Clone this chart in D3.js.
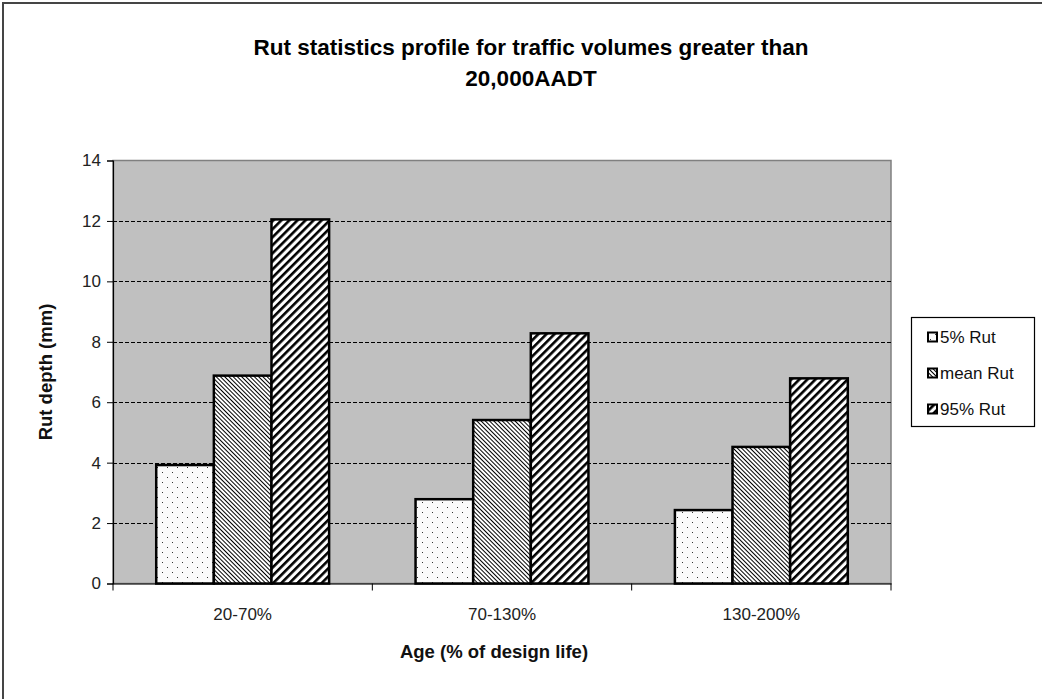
<!DOCTYPE html>
<html><head><meta charset="utf-8">
<script src="https://cdn.jsdelivr.net/npm/d3@7"></script>
<style>
html,body{margin:0;padding:0;background:#fff;}
svg{display:block;font-family:"Liberation Sans",Arial,sans-serif;}
</style>
</head><body>
<svg id="chart" width="1042" height="699"></svg>
<script>
const categories = ["20-70%", "70-130%", "130-200%"];
const seriesNames = ["5% Rut", "mean Rut", "95% Rut"];
const rut5 = [3.92, 2.79, 2.43];
const rutMean = [6.88, 5.41, 4.52];
const rut95 = [12.05, 8.28, 6.79];
const yTicks = [0, 2, 4, 6, 8, 10, 12, 14];
const titleLines = ["Rut statistics profile for traffic volumes greater than", "20,000AADT"];

const seriesValues = [rut5, rutMean, rut95];
const svg = d3.select("#chart");

// frame
svg.append("rect").attr("x", 3).attr("y", 3).attr("width", 1100).attr("height", 800)
  .attr("fill", "#fff").attr("stroke", "#454545").attr("stroke-width", 2);

// patterns
const defs = svg.append("defs");
const pDots = defs.append("pattern").attr("id", "pat0").attr("patternUnits", "userSpaceOnUse")
  .attr("width", 10).attr("height", 10);
pDots.append("rect").attr("width", 10).attr("height", 10).attr("fill", "#fbfbfb");
pDots.append("rect").attr("x", 2).attr("y", 2).attr("width", 1).attr("height", 1).attr("fill", "#333");
pDots.append("rect").attr("x", 7).attr("y", 7).attr("width", 1).attr("height", 1).attr("fill", "#333");

const pThin = defs.append("pattern").attr("id", "pat1").attr("patternUnits", "userSpaceOnUse")
  .attr("width", 3).attr("height", 10).attr("patternTransform", "rotate(-45)");
pThin.append("rect").attr("width", 3).attr("height", 10).attr("fill", "#fff");
pThin.append("line").attr("x1", 0.5).attr("x2", 0.5).attr("y1", 0).attr("y2", 10)
  .attr("stroke", "#000").attr("stroke-width", 1);

const pThick = defs.append("pattern").attr("id", "pat2").attr("patternUnits", "userSpaceOnUse")
  .attr("width", 5.7).attr("height", 10).attr("patternTransform", "rotate(45)");
pThick.append("rect").attr("width", 5.7).attr("height", 10).attr("fill", "#fff");
pThick.append("line").attr("x1", 1.3).attr("x2", 1.3).attr("y1", 0).attr("y2", 10)
  .attr("stroke", "#000").attr("stroke-width", 2.6);

const plot = {left: 113, right: 891, top: 160.5, bottom: 583.5};

const x = d3.scaleBand().domain(categories).range([plot.left, plot.right]).paddingInner(0).paddingOuter(0);
const xs = d3.scaleBand().domain(seriesNames).range([0, x.bandwidth()]).paddingInner(0).paddingOuter(0.75);
const y = d3.scaleLinear().domain([0, 14]).range([plot.bottom, plot.top]);

// plot background
svg.append("rect").attr("x", plot.left).attr("y", plot.top)
  .attr("width", plot.right - plot.left).attr("height", plot.bottom - plot.top)
  .attr("fill", "#c0c0c0").attr("stroke", "#808080").attr("stroke-width", 1.5);

// gridlines
svg.append("g").selectAll("line").data(yTicks.filter(d => d > 0 && d < 14)).join("line")
  .attr("x1", plot.left).attr("x2", plot.right)
  .attr("y1", d => Math.round(y(d)) + 0.5).attr("y2", d => Math.round(y(d)) + 0.5)
  .attr("stroke", "#000").attr("stroke-width", 1).attr("stroke-dasharray", "4,2");

// bars
const barData = [];
categories.forEach((c, i) => seriesNames.forEach((s, j) => barData.push({c, s, j, v: seriesValues[j][i]})));
svg.append("g").selectAll("rect").data(barData).join("rect")
  .attr("x", d => x(d.c) + xs(d.s))
  .attr("y", d => y(d.v))
  .attr("width", xs.bandwidth())
  .attr("height", d => y(0) - y(d.v))
  .attr("fill", d => `url(#pat${d.j})`)
  .attr("stroke", "#000").attr("stroke-width", 2.5);

// y axis
const yAxis = d3.axisLeft(y).tickValues(yTicks).tickSize(6).tickPadding(6).tickFormat(d3.format("d"));
const gy = svg.append("g").attr("transform", `translate(${plot.left},0)`).call(yAxis);
gy.select(".domain").attr("stroke", "#000").attr("stroke-width", 1.2);
gy.selectAll(".tick line").attr("stroke", "#000");
gy.selectAll(".tick text").attr("font-size", 17).attr("fill", "#222")
  .attr("font-family", "Liberation Sans, Arial, sans-serif");

// x axis
const xAxis = d3.axisBottom(x).tickSize(0).tickPadding(24);
const gx = svg.append("g").attr("transform", `translate(0,${plot.bottom})`).call(xAxis);
gx.select(".domain").attr("stroke", "#000").attr("stroke-width", 1.2);
gx.selectAll(".tick text").attr("font-size", 17).attr("fill", "#222")
  .attr("font-family", "Liberation Sans, Arial, sans-serif");
// boundary ticks between categories
const bounds = categories.map(c => x(c)).concat([plot.right]);
gx.append("g").selectAll("line").data(bounds).join("line")
  .attr("x1", d => d).attr("x2", d => d).attr("y1", 0).attr("y2", 7)
  .attr("stroke", "#000").attr("stroke-width", 1);

// titles
svg.append("text").attr("x", 531).attr("y", 55).attr("text-anchor", "middle")
  .attr("font-size", 22.5).attr("font-weight", "bold").attr("fill", "#000")
  .selectAll("tspan").data(titleLines).join("tspan")
  .attr("x", 531).attr("dy", (d, i) => i === 0 ? 0 : 31).text(d => d);

svg.append("text").attr("x", (plot.left + plot.right) / 2 - 8).attr("y", 658)
  .attr("text-anchor", "middle").attr("font-size", 18.5).attr("font-weight", "bold")
  .attr("fill", "#111").text("Age (% of design life)");

svg.append("text").attr("transform", `translate(52,${(plot.top + plot.bottom) / 2}) rotate(-90)`)
  .attr("text-anchor", "middle").attr("font-size", 18.5).attr("font-weight", "bold")
  .attr("fill", "#111").text("Rut depth (mm)");

// legend
const lg = svg.append("g");
lg.append("rect").attr("x", 911.5).attr("y", 317.5).attr("width", 123).attr("height", 109)
  .attr("fill", "#fff").attr("stroke", "#000").attr("stroke-width", 1.2);
const ly = d3.scalePoint().domain(seriesNames).range([337, 409]);
const li = lg.selectAll("g").data(seriesNames).join("g")
  .attr("transform", d => `translate(928,${ly(d)})`);
li.append("rect").attr("x", 0).attr("y", -4.5).attr("width", 9).attr("height", 9)
  .attr("fill", (d, i) => `url(#pat${i})`).attr("stroke", "#000").attr("stroke-width", 2);
li.append("text").attr("x", 12).attr("y", 6).attr("font-size", 17).attr("fill", "#111").text(d => d);
</script>
</body></html>
